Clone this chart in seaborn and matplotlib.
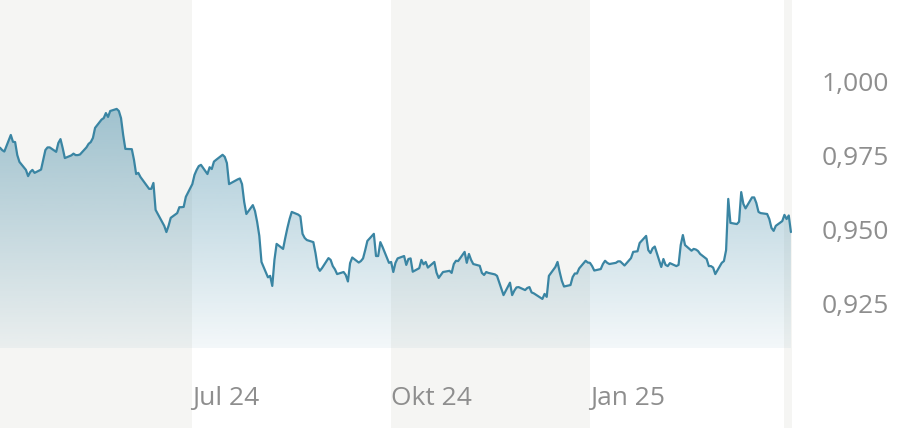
import numpy as np
import pandas as pd
import matplotlib.pyplot as plt
import matplotlib.dates as mdates
from matplotlib.colors import to_rgb
from matplotlib.ticker import FuncFormatter
import seaborn as sns

# daily closing rate (business days)
start_date = "2024-04-03"
rates = [
    0.9778, 0.9770, 0.9765,
    0.9821, 0.9798, 0.9797, 0.9753, 0.9730,
    0.9703, 0.9682, 0.9696, 0.9703, 0.9693,
    0.9704, 0.9737, 0.9770, 0.9779, 0.9779,
    0.9764, 0.9794, 0.9807, 0.9777, 0.9743,
    0.9752, 0.9758, 0.9753, 0.9753, 0.9755,
    0.9779, 0.9791, 0.9797, 0.9811, 0.9845,
    0.9873, 0.9878, 0.9895, 0.9882, 0.9902,
    0.9909, 0.9902, 0.9878, 0.9821, 0.9774,
    0.9773, 0.9737, 0.9689, 0.9693, 0.9679,
    0.9649, 0.9639, 0.9639, 0.9659, 0.9568,
    0.9527, 0.9514, 0.9493, 0.9514, 0.9541,
    0.9557, 0.9577, 0.9577, 0.9578, 0.9612,
    0.9655, 0.9686, 0.9703, 0.9716, 0.9720,
    0.9689, 0.9712, 0.9706, 0.9731, 0.9737,
    0.9754, 0.9747, 0.9726, 0.9655, 0.9659,
    0.9671, 0.9674, 0.9655, 0.9595, 0.9554,
    0.9584, 0.9564, 0.9527, 0.9480, 0.9392,
    0.9340, 0.9345, 0.9311, 0.9399, 0.9453,
    0.9436, 0.9473, 0.9507, 0.9537, 0.9561,
    0.9552, 0.9546, 0.9487, 0.9473, 0.9466,
    0.9459, 0.9422, 0.9375, 0.9362, 0.9371,
    0.9405, 0.9399, 0.9378, 0.9367, 0.9351,
    0.9358, 0.9348, 0.9326, 0.9388, 0.9407,
    0.9390, 0.9395, 0.9404, 0.9432, 0.9463,
    0.9487, 0.9412, 0.9412, 0.9459, 0.9443,
    0.9389, 0.9392, 0.9358, 0.9389, 0.9404,
    0.9412, 0.9382, 0.9402, 0.9404, 0.9359,
    0.9371, 0.9399, 0.9384, 0.9392, 0.9373,
    0.9392, 0.9356, 0.9338, 0.9348, 0.9358,
    0.9362, 0.9355, 0.9385, 0.9396, 0.9395,
    0.9426, 0.9389, 0.9419, 0.9399, 0.9385,
    0.9379, 0.9355, 0.9348, 0.9358, 0.9355,
    0.9350, 0.9345, 0.9323, 0.9301, 0.9280,
    0.9322, 0.9280, 0.9295, 0.9306, 0.9307,
    0.9297, 0.9304, 0.9307, 0.9289, 0.9286,
    0.9272, 0.9267, 0.9284, 0.9274, 0.9345,
    0.9375, 0.9392, 0.9358, 0.9328, 0.9309,
    0.9314, 0.9341, 0.9353, 0.9353, 0.9370,
    0.9396, 0.9390, 0.9389, 0.9378, 0.9363,
    0.9368, 0.9385, 0.9396, 0.9389, 0.9385,
    0.9389, 0.9394, 0.9394, 0.9387, 0.9380,
    0.9405, 0.9426, 0.9427, 0.9428, 0.9456,
    0.9480, 0.9432, 0.9422, 0.9438, 0.9444,
    0.9375, 0.9402, 0.9382, 0.9378, 0.9388,
    0.9378, 0.9382, 0.9449, 0.9483, 0.9449,
    0.9430, 0.9436, 0.9434, 0.9429, 0.9419,
    0.9402, 0.9378, 0.9378, 0.9373, 0.9351,
    0.9389, 0.9395, 0.9432, 0.9605, 0.9524,
    0.9520, 0.9528, 0.9628, 0.9588, 0.9573,
    0.9610, 0.9610, 0.9591, 0.9561, 0.9557,
    0.9554, 0.9537, 0.9507, 0.9497, 0.9514,
    0.9530, 0.9551, 0.9537, 0.9549, 0.9493,
]

quarter_starts = ["2024-04-01", "2024-07-01", "2024-10-01", "2025-01-01", "2025-04-01"]
tick_dates = ["2024-07-01", "2024-10-01", "2025-01-01"]
tick_labels = ["Jul 24", "Okt 24", "Jan 25"]
y_ticks = [0.925, 0.950, 0.975, 1.000]

line_color = "#3a85a3"
band_color = "#f5f5f3"
text_color = "#8e8e8e"
fill_floor = 0.910

sns.set_theme(style="white")
plt.rcParams["font.family"] = ["Open Sans", "DejaVu Sans"]

dates = pd.bdate_range(start_date, periods=len(rates))
df = pd.DataFrame({"date": dates, "rate": rates})

fig = plt.figure(figsize=(9.02, 4.28), dpi=100)
ax = fig.add_axes([0, 0, 792 / 902, 1])

x_min = dates[0]
x_max = dates[-1] + pd.Timedelta(hours=12)

# alternating quarter bands
q = pd.to_datetime(quarter_starts + ["2025-07-01"])
for i in range(len(quarter_starts)):
    if i % 2 == 0:
        ax.axvspan(max(q[i], x_min), min(q[i + 1], x_max), color=band_color, lw=0, zorder=0)

# area under the line with vertical fade
poly = ax.fill_between(df["date"], df["rate"], fill_floor, color="none", lw=0)
n = 256
grad = np.zeros((n, 1, 4))
grad[..., :3] = to_rgb(line_color)
grad[..., 3] = np.linspace(0.06, 0.5, n)[:, None]
img = ax.imshow(
    grad, origin="lower", aspect="auto", zorder=1,
    extent=[mdates.date2num(x_min), mdates.date2num(x_max), fill_floor, 1.0],
)
img.set_clip_path(poly.get_paths()[0], transform=ax.transData)

sns.lineplot(data=df, x="date", y="rate", color=line_color, linewidth=1.6, ax=ax, zorder=3)

ax.set_xlim(x_min, x_max)
ax.set_ylim(0.8831, 1.0277)
ax.set_xlabel("")
ax.set_ylabel("")

ax.set_xticks(pd.to_datetime(tick_dates))
ax.set_xticklabels(tick_labels, ha="left")
ax.tick_params(axis="x", length=0, pad=-30, labelsize=19, labelcolor=text_color)

ax.yaxis.tick_right()
ax.set_yticks(y_ticks)
ax.yaxis.set_major_formatter(FuncFormatter(lambda v, _: f"{v:.3f}".replace(".", ",")))
ax.tick_params(axis="y", length=0, pad=70, labelsize=19, labelcolor=text_color)
for lbl in ax.get_yticklabels():
    lbl.set_horizontalalignment("right")

sns.despine(ax=ax, left=True, bottom=True, right=True, top=True)
ax.grid(False)

fig.savefig("out.png", dpi=100)
plt.close(fig)
